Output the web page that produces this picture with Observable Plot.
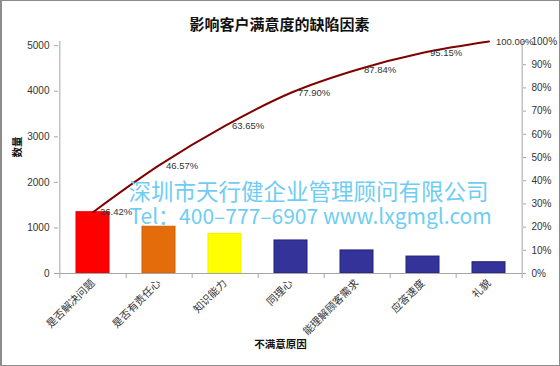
<!DOCTYPE html>
<html>
<head>
<meta charset="utf-8">
<script src="https://cdn.jsdelivr.net/npm/d3@7"></script>
<script src="https://cdn.jsdelivr.net/npm/@observablehq/plot@0.6"></script>
<style>
  html, body { margin: 0; padding: 0; background: #fff; }
  #wrap { position: relative; width: 560px; height: 366px; }
  #border { position: absolute; left: 0; top: 0; width: 560px; height: 366px; box-sizing: border-box; border: 1px solid #8c8c8c; border-left-width: 2px; pointer-events: none; }
  svg { display: block; }
</style>
</head>
<body>
<div id="wrap"><div id="border"></div></div>
<script>
const categories = ["是否解决问题", "是否有责任心", "知识能力", "同理心", "能理解顾客需求", "应答速度", "礼貌"];
const counts = [1345, 1026, 870, 725, 506, 372, 247];
const cumPct = [26.42, 46.57, 63.65, 77.90, 87.84, 95.15, 100.00];
const barColors = ["#ff0000", "#e46c0a", "#ffff00", "#333399", "#333399", "#333399", "#333399"];
const barStrokes = ["#e00000", "#d0600a", "#f0f000", "#22227a", "#22227a", "#22227a", "#22227a"];
const leftTicks = [0, 1000, 2000, 3000, 4000, 5000];
const rightTicks = [0, 10, 20, 30, 40, 50, 60, 70, 80, 90, 100];

const total = d3.sum(counts);
const rows = categories.map((c, i) => ({
  cat: c, count: counts[i], fill: barColors[i], stroke: barStrokes[i],
  cum: cumPct[i] * total / 100, label: cumPct[i].toFixed(2) + "%"
}));

const W = 560, H = 366, mL = 58, mR = 38, mT = 41, mB = 93;
const step = (W - mL - mR) / categories.length;
const axisColor = "#a6a6a6";
const sans = "Liberation Sans, Arial, sans-serif";
const cjk = "Noto Sans CJK SC, sans-serif";

const chart = Plot.plot({
  width: W, height: H,
  marginLeft: mL, marginRight: mR, marginTop: mT, marginBottom: mB,
  style: { background: "#fff", overflow: "visible" },
  x: { type: "band", domain: categories, paddingInner: 0.5, paddingOuter: 0.25 },
  y: { domain: [0, total] },
  color: { type: "identity" },
  marks: [
    Plot.barY(rows, { x: "cat", y: "count", fill: "fill", stroke: "stroke", strokeWidth: 1 }),
    Plot.ruleY([0], { stroke: axisColor }),
    Plot.ruleX([categories[0]], { dx: -step / 2, stroke: axisColor }),
    Plot.ruleX([categories[categories.length - 1]], { dx: step / 2, stroke: axisColor }),
    Plot.ruleX(categories, { x: d => d, dx: step / 2, y1: 0, y2: -total * 5 / 232, stroke: axisColor, clip: false }),
    Plot.ruleX([categories[0]], { x: d => d, dx: -step / 2, y1: 0, y2: -total * 5 / 232, stroke: axisColor, clip: false }),
    Plot.axisY({ ticks: leftTicks, tickFormat: d => String(d), tickSize: 4, tickPadding: 5, label: null, fontSize: 10, fontFamily: sans, color: "#333", stroke: axisColor }),
    Plot.axisY({ anchor: "right", ticks: rightTicks.map(p => p * total / 100), tickFormat: d => Math.round(d / total * 100) + "%", tickSize: 3, tickPadding: 6, label: null, fontSize: 10, fontFamily: sans, color: "#333", stroke: axisColor }),
    Plot.axisX({ tickSize: 0, tickPadding: 8, tickRotate: -45, label: null, fontSize: 10.5, fontFamily: cjk, color: "#333" }),
    Plot.line(rows, { x: "cat", y: "cum", stroke: "#800000", strokeWidth: 2, curve: "monotone-x" }),
    Plot.text(rows, { x: "cat", y: "cum", text: "label", dx: 7, textAnchor: "start", fontSize: 9.5, fontFamily: sans, fill: "#333" }),
    Plot.text(["影响客户满意度的缺陷因素"], { frameAnchor: "top", dx: -11, dy: -22, fontSize: 15, fontWeight: "bold", fontFamily: cjk, fill: "#111" }),
    Plot.text(["数量"], { frameAnchor: "left", dx: -41, rotate: -90, fontSize: 10.5, fontWeight: "bold", fontFamily: cjk, fill: "#111" }),
    Plot.text(["不满意原因"], { frameAnchor: "bottom", dx: -10, dy: 74, fontSize: 10.5, fontWeight: "bold", fontFamily: cjk, fill: "#111" }),
    Plot.text(["深圳市天行健企业管理顾问有限公司"], { frameAnchor: "top-left", dx: 70, dy: 143, textAnchor: "start", fontSize: 22.5, fontFamily: cjk, fill: "#6fcdf4" }),
    Plot.text(["Tel：400–777–6907 www.lxgmgl.com"], { frameAnchor: "top-left", dx: 71, dy: 168, textAnchor: "start", fontSize: 21, fontFamily: cjk, fill: "#6fcdf4" })
  ]
});
document.getElementById("wrap").prepend(chart);
</script>
</body>
</html>
